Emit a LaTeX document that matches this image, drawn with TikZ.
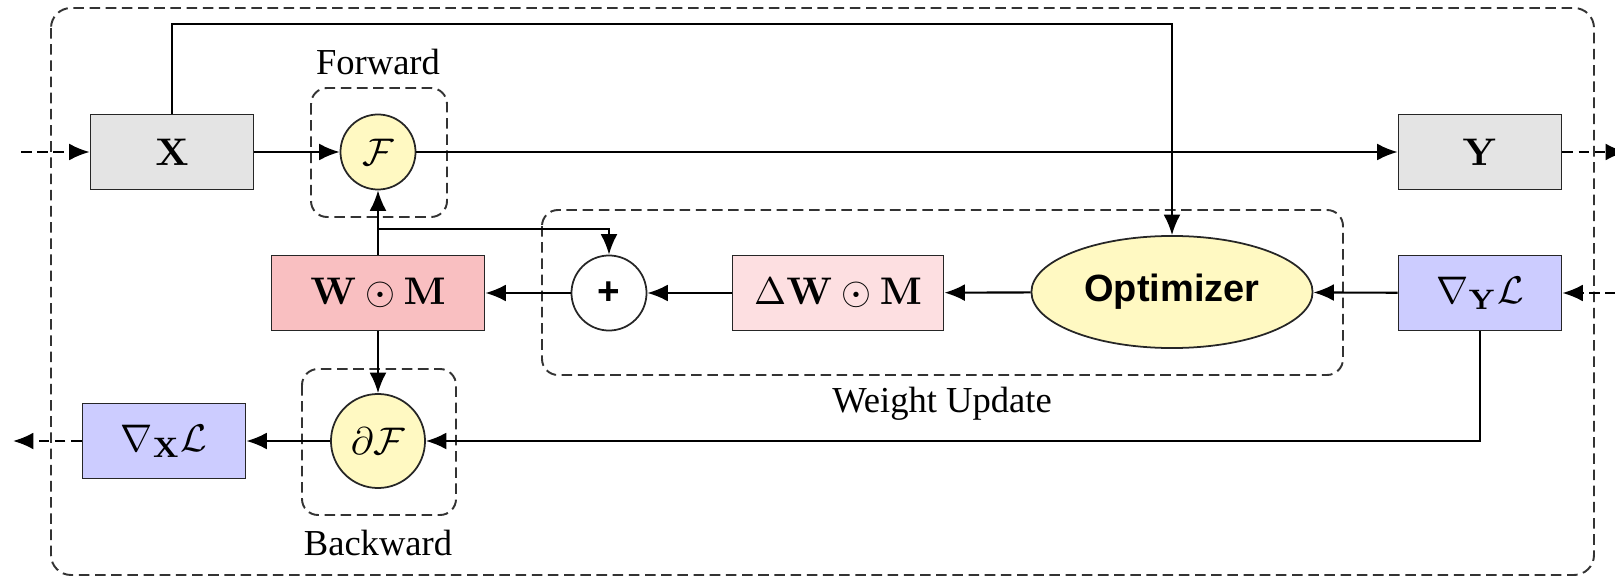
\documentclass[tikz,border=0pt]{standalone}
\usepackage{amsmath}
\usepackage{amssymb}
\usepackage[no-math]{fontspec}
\setmainfont{Liberation Serif}
\newfontfamily\optfont{Liberation Sans}
\usetikzlibrary{arrows.meta,shapes.geometric}

\definecolor{tensorgray}{HTML}{E4E4E4}
\definecolor{opyellow}{HTML}{FFF9C2}
\definecolor{maskred}{HTML}{F9BFC1}
\definecolor{deltared}{HTML}{FDDFE1}
\definecolor{gradblue}{HTML}{CCCCFF}

\tikzset{
  tensor/.style={draw=black!85,line width=0.5pt,minimum width=1.63cm,minimum height=0.75cm,
    font=\fontsize{11}{13}\selectfont},
  opcircle/.style={draw=black!85,circle,line width=0.5pt,fill=opyellow,inner sep=1pt,
    font=\fontsize{11}{13}\selectfont},
  groupbox/.style={draw=black!80,line width=0.55pt,dash pattern=on 3pt off 1.6pt,rounded corners=0.16cm},
  flow/.style={->,line width=0.6pt},
  extflow/.style={->,line width=0.6pt,dash pattern=on 3pt off 1.6pt},
  label/.style={font=\fontsize{10.4}{12}\selectfont}
}

\begin{document}
\begin{tikzpicture}[x=0.01cm,y=-0.01cm,>={Latex[length=5.8pt,width=4.8pt]}]
\useasboundingbox (0,0) rectangle (1615,579);

% Outer frame
\draw[groupbox,rounded corners=0.2cm] (51,8) rectangle (1594,575);

% Forward
\draw[groupbox] (311,88) rectangle (447,217);
\node[label] (fwdlabel) at (378,62) {Forward};
\node[tensor,fill=tensorgray] (X) at (172,152) {$\mathbf{X}$};
\node[opcircle,minimum size=0.75cm] (F) at (378,152) {$\mathcal{F}$};
\node[tensor,fill=tensorgray] (Y) at (1480,152) {$\mathbf{Y}$};

% Weight update
\draw[groupbox] (542,210) rectangle (1343,375);
\node[label] (wulabel) at (942,404) {Weight Update};
\node[tensor,fill=maskred,minimum width=2.13cm] (WM) at (378,293) {$\mathbf{W}\odot\mathbf{M}$};
\node[draw=black!85,circle,line width=0.5pt,minimum size=0.75cm,inner sep=0pt,
  font=\optfont\bfseries\fontsize{11}{13}\selectfont] (plus) at (609,293) {+};
\node[tensor,fill=deltared,minimum width=2.11cm] (DWM) at (838,293) {$\Delta\mathbf{W}\odot\mathbf{M}$};
\node[draw=black!85,ellipse,line width=0.5pt,fill=opyellow,minimum width=2.81cm,minimum height=1.12cm,
  font=\optfont\bfseries\fontsize{10.8}{13}\selectfont] (opt) at (1172,292) {Optimizer};
\node[tensor,fill=gradblue] (gY) at (1480,293) {$\nabla_{\mathbf{Y}}\mathcal{L}$};

% Backward
\draw[groupbox] (302,369) rectangle (456,515);
\node[label] (bwdlabel) at (378,543) {Backward};
\node[opcircle,minimum size=0.94cm] (dF) at (378,441) {$\partial\mathcal{F}$};
\node[tensor,fill=gradblue] (gX) at (164,441) {$\nabla_{\mathbf{X}}\mathcal{L}$};

% Free ends
\coordinate (inX) at (21,152);
\coordinate (outY) at (1626,152);
\coordinate (ingY) at (1616,293);
\coordinate (outgX) at (13,441);
\coordinate (top) at (0,24);
\coordinate (branch) at (0,229);

% Connectors
\draw[extflow] (inX) -- (X);
\draw[flow] (X) -- (F);
\draw[flow] (F) -- (Y);
\draw[extflow] (Y) -- (outY);
\draw[flow] (X.north) -- (X.north |- top) -| (opt.north);
\draw[flow] (WM.north) -- (F.south);
\draw[flow] (WM.north |- branch) -| (plus.north);
\draw[flow] (plus) -- (WM);
\draw[flow] (DWM) -- (plus);
\draw[flow] (opt) -- (DWM);
\draw[flow] (gY) -- (opt);
\draw[extflow] (ingY) -- (gY);
\draw[flow] (WM.south) -- (dF.north);
\draw[flow] (gY.south) |- (dF.east);
\draw[flow] (dF) -- (gX);
\draw[extflow] (gX) -- (outgX);

\end{tikzpicture}
\end{document}
